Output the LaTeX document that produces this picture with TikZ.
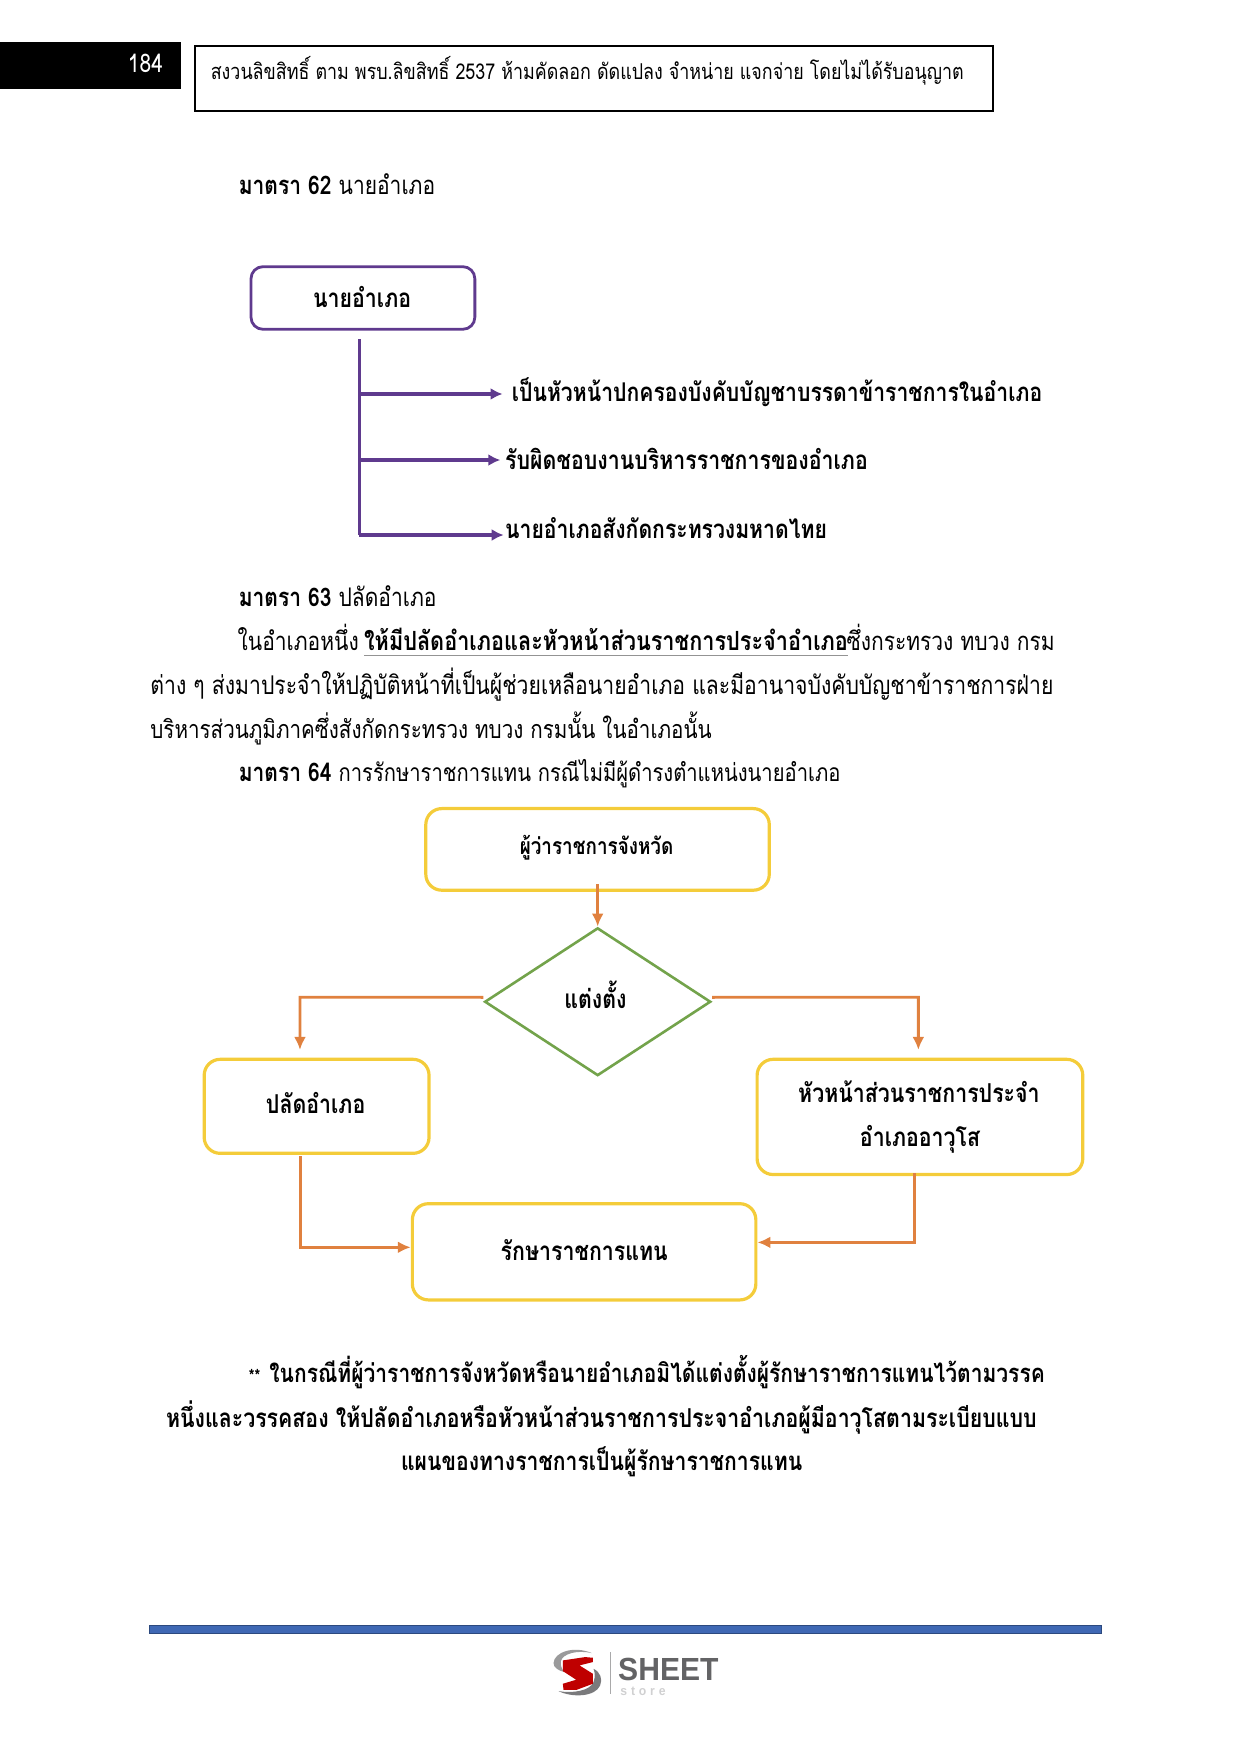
\documentclass[tikz,border=0pt]{standalone}
\usepackage{fontspec}
\setmainfont[Script=Thai,FakeStretch=0.82]{Loma}
\newfontfamily\logofont[FakeStretch=0.94]{Liberation Sans}
\usetikzlibrary{shapes.geometric,arrows.meta}
\definecolor{purp}{HTML}{5F3A8E}
\definecolor{yell}{HTML}{F4CC3A}
\definecolor{oran}{HTML}{E0813F}
\definecolor{gren}{HTML}{73A34B}
\definecolor{barblue}{HTML}{3F68B4}
\definecolor{logogrey}{HTML}{636365}
\newcommand{\sz}[1]{\fontsize{#1}{14}\selectfont}

\begin{document}
\begin{tikzpicture}[x=0.5595pt,y=-0.5595pt,
every node/.style={inner sep=0pt, font=\sz{12.8}},
txt/.style={anchor=base west},
txtb/.style={anchor=base west, font=\sz{13}\bfseries},
lbl/.style={anchor=center, font=\sz{13}\bfseries, text height=9pt, text depth=3pt},
pbox/.style={draw=purp, line width=1.4pt, rounded corners=6pt, anchor=north west},
ybox/.style={draw=yell, line width=1.6pt, rounded corners=8pt, anchor=north west},
parr/.style={draw=purp, line width=1.7pt, -{Latex[length=6pt,width=6pt]}},
oarr/.style={draw=oran, line width=1.4pt, -{Latex[length=6.5pt,width=6pt]}}
]
\useasboundingbox (0,0) rectangle (1109,1568);

% header
\node (pagebox) [fill=black, minimum width=90.1pt, minimum height=23.5pt, anchor=north west] at (0,37) {};
\node (pagenum) [white, txt, font=\sz{12.8}] at (114,64.5) {184};
\node (headbox) [draw=black, line width=0.9pt, minimum width=398.9pt, minimum height=32.5pt, anchor=north west] at (173.5,40) {};
\node (headtxt) [txt, font=\sz{10.9}] at (188,71) {สงวนลิขสิทธิ์ ตาม พรบ.ลิขสิทธิ์ 2537 ห้ามคัดลอก ดัดแปลง จำหน่าย แจกจ่าย โดยไม่ได้รับอนุญาต};

\node (sec62) [txt] at (213,174) {\textbf{มาตรา 62} นายอำเภอ};

% first chart
\node (nai) [pbox, minimum width=111.9pt, minimum height=31.3pt] at (223,237) {};
\node (nailbl) [lbl] at (323.5,269) {นายอำเภอ};
\coordinate (trunktop) at (321,303);
\coordinate (trunkend) at (321,478);
\coordinate (arrA) at (449,352);
\coordinate (arrB) at (447,411);
\coordinate (arrC) at (450,478);
\node (dutyA) [txtb, font=\sz{12.9}\bfseries] at (457,359) {เป็นหัวหน้าปกครองบังคับบัญชาบรรดาข้าราชการในอำเภอ};
\node (dutyB) [txtb] at (451,419.5) {รับผิดชอบงานบริหารราชการของอำเภอ};
\node (dutyC) [txtb, font=\sz{12.9}\bfseries] at (451,481) {นายอำเภอสังกัดกระทรวงมหาดไทย};
\draw [purp, line width=1.3pt] (trunktop) -- (trunkend);
\foreach \j in {arrA, arrB, arrC}
    \draw [parr] (trunktop |- \j) -- (\j);

% text
\node (sec63) [txt] at (213,542) {\textbf{มาตรา 63} ปลัดอำเภอ};
\node (paraA) [txt] at (212,581.6) {ในอำเภอหนึ่ง};
\node (paraB) [txtb, font=\sz{13.2}\bfseries] at (325,581.6) {ให้มีปลัดอำเภอและหัวหน้าส่วนราชการประจำอำเภอ};
\node (paraC) [txt] at (756,581.6) {ซึ่งกระทรวง ทบวง กรม};
\draw [gray!85, line width=0.3pt, double, double distance=0.5pt] ([yshift=-1.9pt]paraB.base west) -- ([yshift=-1.9pt]paraB.base east);
\node (paraD) [txt, font=\sz{12.9}] at (134,620.8) {ต่าง ๆ ส่งมาประจำให้ปฏิบัติหน้าที่เป็นผู้ช่วยเหลือนายอำเภอ และมีอานาจบังคับบัญชาข้าราชการฝ่าย};
\node (paraE) [txt, font=\sz{12.55}] at (134,660) {บริหารส่วนภูมิภาคซึ่งสังกัดกระทรวง ทบวง กรมนั้น ในอำเภอนั้น};
\node (sec64) [txt] at (213,698.5) {\textbf{มาตรา 64} {\sz{12.3}การรักษาราชการแทน กรณีไม่มีผู้ดำรงตำแหน่งนายอำเภอ}};

% second chart
\node (gov) [ybox, minimum width=171.7pt, minimum height=40.8pt] at (379,721) {};
\node (govlbl) [lbl, font=\sz{11.5}\bfseries] at (533,758.5) {ผู้ว่าราชการจังหวัด};
\node (appoint) [diamond, draw=gren, line width=1.3pt, minimum width=113pt, minimum height=73.9pt] at (534,895) {};
\node (applbl) [lbl] at (532,896) {แต่งตั้ง};
\node (palad) [ybox, minimum width=112.4pt, minimum height=47pt] at (181,945) {};
\node (paladlbl) [lbl] at (282,989.5) {ปลัดอำเภอ};
\node (head) [ybox, minimum width=162.8pt, minimum height=57.6pt] at (675,945) {};
\node (headA) [lbl] at (821,980) {หัวหน้าส่วนราชการประจำ};
\node (headB) [lbl] at (822,1019) {อำเภออาวุโส};
\node (act) [ybox, minimum width=171.7pt, minimum height=48.1pt] at (367,1074) {};
\node (actlbl) [lbl] at (522,1120.5) {รักษาราชการแทน};

\coordinate (govout) at (534,790);
\coordinate (lcorner) at (268,891);
\coordinate (lend) at (268,938);
\coordinate (rcorner) at (820.5,891);
\coordinate (rend) at (820.5,938);
\coordinate (paladout) at (268.3,1033);
\coordinate (paladturn) at (268.3,1114.4);
\coordinate (headout) at (817,1048);
\coordinate (headturn) at (817,1110);

\draw [oarr] (govout) -- (appoint.north);
\draw [oarr] ([yshift=2.2pt]appoint.west) -- (lcorner) -- (lend);
\draw [oarr] ([yshift=2.2pt]appoint.east) -- (rcorner) -- (rend);
\draw [oarr] (paladout) -- (paladturn) -- (paladturn -| act.west);
\draw [oarr] (headout) -- (headturn) -- (headturn -| act.east);

% note
\node (noteA) [txtb, font=\sz{12.8}\bfseries] at (222,1235) {{\sz{9}**}\kern1pt\ ในกรณีที่ผู้ว่าราชการจังหวัดหรือนายอำเภอมิได้แต่งตั้งผู้รักษาราชการแทนไว้ตามวรรค};
\node (noteB) [txtb] at (148,1275) {หนึ่งและวรรคสอง ให้ปลัดอำเภอหรือหัวหน้าส่วนราชการประจาอำเภอผู้มีอาวุโสตามระเบียบแบบ};
\node (noteC) [txtb, font=\sz{12.9}\bfseries] at (358,1314) {แผนของทางราชการเป็นผู้รักษาราชการแทน};

% footer
\node (footbar) [fill=barblue, draw=barblue!70!black, line width=0.4pt, minimum width=476pt, minimum height=3.9pt, anchor=north west] at (133,1452) {};
\begin{scope}[shift={(482.6,1465.6)}, x=0.1667pt, y=-0.1667pt]
\fill [logogrey!65] (40,68) .. controls (42,35) and (100,15) .. (155,38) .. controls (110,28) and (68,40) .. (62,62) .. controls (60,75) and (65,85) .. (72,95) .. controls (55,90) and (40,82) .. (40,68) -- cycle;
\fill [logogrey!85] (160,85) .. controls (180,95) and (188,115) .. (180,135) .. controls (165,170) and (95,172) .. (55,152) .. controls (100,160) and (150,150) .. (160,125) .. controls (165,110) and (165,98) .. (160,85) -- cycle;
\fill [red!75!black] (68,60) -- (135,50) -- (158,52) -- (158,65) -- (118,75) -- (158,100) -- (158,130) -- (110,148) -- (70,148) -- (68,130) -- (108,118) -- (68,92) -- cycle;
\draw [logogrey!55, line width=0.6pt] (210,35) -- (210,160);
\end{scope}
\node (logoA) [txt, font=\fontsize{16}{16}\logofont\bfseries, logogrey] at (552,1501) {SHEET};
\node (logoB) [txt, font=\fontsize{6.5}{7}\logofont\bfseries, logogrey!30] at (554,1514.5) {s\kern1.9pt t\kern1.9pt o\kern1.9pt r\kern1.9pt e};
\end{tikzpicture}
\end{document}
